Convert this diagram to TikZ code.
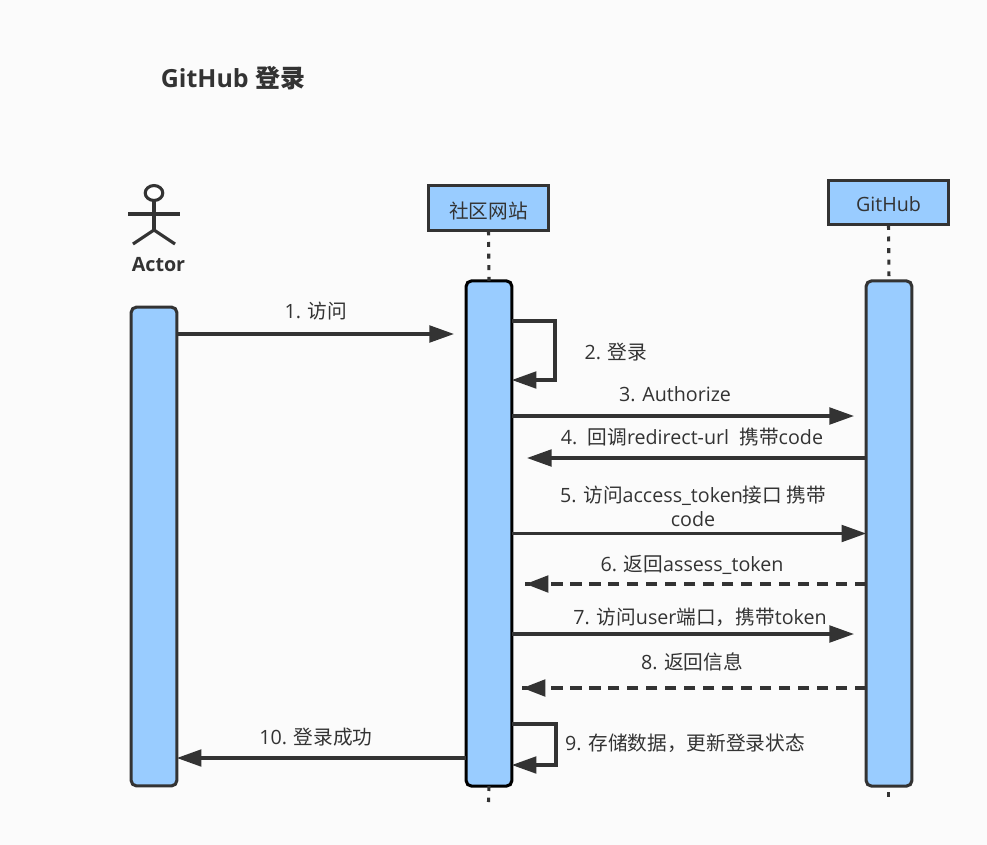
\documentclass[tikz,border=0pt]{standalone}
\usepackage{fontspec}
\setmainfont{Open Sans}
\newfontfamily\cjk{Noto Sans CJK SC}
\newcommand{\zh}[1]{{\cjk #1}}
\usetikzlibrary{arrows.meta,shapes.geometric}
\definecolor{inkgrey}{HTML}{333333}
\definecolor{barblue}{HTML}{99CCFF}
\definecolor{pagegrey}{HTML}{FBFBFB}
\tikzset{
  headbox/.style={draw=inkgrey, fill=barblue, line width=1.75pt, minimum width=68.5pt, minimum height=25.5pt, inner sep=0pt, outer sep=0pt, text=inkgrey},
  lifebar/.style={draw=inkgrey, fill=barblue, line width=1.75pt, rounded corners=3pt, minimum width=26pt, inner sep=0pt, outer sep=0pt},
  lifeline/.style={draw=inkgrey, line width=1.75pt, dash pattern=on 2.8pt off 3.8pt},
  msg/.style={draw=inkgrey, line width=1.75pt, -{Triangle[length=14pt,width=9.5pt]}},
  reply/.style={draw=inkgrey, line width=1.75pt, dash pattern=on 6.5pt off 4.3pt, -{Triangle[length=13pt,width=9.5pt,sep=-2.5pt] Rectangle[length=2.8pt,width=1.75pt]}},
  msgtext/.style={text=inkgrey, font=\fontsize{11.2}{13.6}\selectfont, inner sep=0pt, align=center},
  limb/.style={draw=inkgrey, line width=1.75pt}
}
\begin{document}
\begin{tikzpicture}[x=0.02cm, y=-0.02cm]
  \fill[pagegrey] (0,0) rectangle (987,845);
  \useasboundingbox (0,0) rectangle (987,845);

  % Title
  \node[text=inkgrey, inner sep=0pt, font=\fontsize{14.2}{17}\selectfont\bfseries] (title) at (233,78) {GitHub {\cjk\bfseries 登录}};

  % Actor
  \node[ellipse, draw=inkgrey, fill=white, line width=1.75pt, minimum width=10pt, minimum height=8.5pt, inner sep=0pt, outer sep=0pt] (head) at (154,193) {};
  \coordinate (hip) at (154,230);
  \coordinate (armL) at (128,214);
  \coordinate (armR) at (180,214);
  \coordinate (footL) at (133,244);
  \coordinate (footR) at (175,244);
  \draw[limb] (head) -- (hip);
  \draw[limb] (armL) -- (armR);
  \draw[limb] (footL) -- (hip) -- (footR);
  \node[text=inkgrey, inner sep=0pt, font=\fontsize{11.2}{13.6}\selectfont\bfseries] (actor) at (158.5,264.5) {Actor};

  % Lifeline heads
  \node[headbox, font=\fontsize{11.2}{13.6}\selectfont, text height=12.2pt, text depth=0pt] (site) at (488.5,208) {\zh{社区网站}};
  \node[headbox, font=\fontsize{11.2}{13.6}\selectfont, text height=9.7pt, text depth=0pt] (github) at (888.5,202.5) {GitHub};

  % Activation bars
  \node[lifebar, minimum height=272.5pt] (actorbar) at (154,546.5) {};
  \node[lifebar, draw=black, minimum height=287.5pt] (sitebar) at (489,533.5) {};
  \node[lifebar, minimum height=287.5pt] (githubbar) at (889,533.5) {};

  % Dotted lifelines
  \coordinate (siteend) at (488.5,802);
  \coordinate (githubend) at (888.5,797);
  \coordinate (githubdot) at (888.5,792);
  \draw[lifeline] (site.south) -- (sitebar.north);
  \draw[lifeline] (github.south) -- (githubbar.north);
  \draw[lifeline] (sitebar.south) -- (siteend);
  \draw[lifeline] (githubdot) -- (githubend);

  % Free arrow ends
  \coordinate (m1) at (454,334);
  \coordinate (m3) at (854,416);
  \coordinate (m4) at (527,458);
  \coordinate (m6) at (525,584);
  \coordinate (m7) at (854,634);
  \coordinate (m8) at (522,688);

  % Messages
  \draw[msg] (actorbar.east |- m1) -- (m1);
  \draw[msg] (sitebar.east |- 0,321) -- (555,321) -- (555,380) -- (sitebar.east |- 0,380);
  \draw[msg] (sitebar.east |- m3) -- (m3);
  \draw[msg] (githubbar.west |- m4) -- (m4);
  \draw[msg] (sitebar.east |- 0,533.5) -- (githubbar.west |- 0,533.5);
  \draw[reply] (githubbar.west |- m6) -- (m6);
  \draw[msg] (sitebar.east |- m7) -- (m7);
  \draw[reply] (githubbar.west |- m8) -- (m8);
  \draw[msg] (sitebar.east |- 0,724) -- (556,724) -- (556,765) -- (sitebar.east |- 0,765);
  \draw[msg] (sitebar.west |- 0,758) -- (actorbar.east |- 0,758);

  % Message labels
  \node[msgtext] (t1) at (316,311) {1. \zh{访问}};
  \node[msgtext] (t2) at (616,352) {2. \zh{登录}};
  \node[msgtext] (t3) at (675,394) {3. Authorize};
  \node[msgtext] (t4) at (692,437) {4.\ \ \zh{回调}redirect-url\ \ \zh{携带}code};
  \node[msgtext] (t5) at (693,506) {5. \zh{访问}access\_token\zh{接口 携带}\\code};
  \node[msgtext] (t6) at (692,565) {6. \zh{返回}assess\_token};
  \node[msgtext] (t7) at (700,617) {7. \zh{访问}user\zh{端口，携带}token};
  \node[msgtext] (t8) at (692,662) {8. \zh{返回信息}};
  \node[msgtext] (t9) at (685,743) {9. \zh{存储数据，更新登录状态}};
  \node[msgtext] (t10) at (316,737) {10. \zh{登录成功}};
\end{tikzpicture}
\end{document}
